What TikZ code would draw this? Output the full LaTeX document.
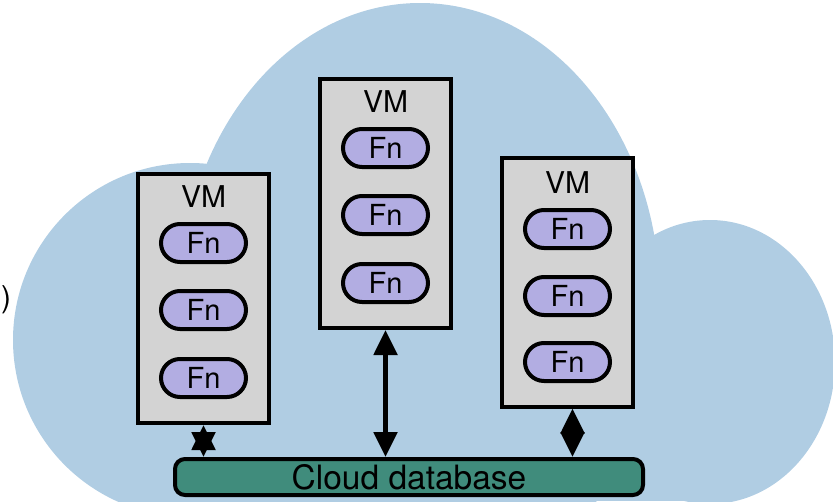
\documentclass[tikz,border=0pt]{standalone}
\usepackage{fontspec}
\setmainfont{TeX Gyre Heros}
\usetikzlibrary{arrows.meta, positioning}
\definecolor{cloudColor}{RGB}{176,205,227}
\definecolor{vmColor}{RGB}{211,211,211}
\definecolor{fnColor}{RGB}{178,173,226}
\definecolor{dbColor}{RGB}{64,140,124}

\tikzset{
  vmbox/.style={draw, line width=4pt, fill=vmColor, minimum width=131pt, minimum height=249pt, inner sep=0pt},
  vmlabel/.style={inner sep=0pt, font=\fontsize{30}{32}\selectfont},
  fnpill/.style={draw, line width=4pt, fill=fnColor, rounded corners=19pt, minimum width=85pt, minimum height=38pt, inner sep=0pt, font=\fontsize{29}{31}\selectfont},
  dbbar/.style={draw, line width=4pt, fill=dbColor, rounded corners=10pt, minimum width=468pt, minimum height=36pt, inner sep=0pt, font=\fontsize{33.5}{35}\selectfont},
  link/.style={{Triangle[length=25pt,width=23pt]}-{Triangle[length=25pt,width=23pt]}, line width=5pt}
}

\begin{document}
\begin{tikzpicture}[x=1pt, y=-1pt]
  \useasboundingbox (0,0) rectangle (833,501);

  % Nube de fondo
  \begin{scope}
    \clip (0,0) rectangle (833,501);
    \fill[cloudColor] (190,340) circle [radius=177pt];
    \fill[cloudColor] (420,300) ellipse [x radius=240pt, y radius=297pt];
    \fill[cloudColor] (710,362) ellipse [x radius=125pt, y radius=142pt];
    \fill[cloudColor] (200,330) rectangle (720,501);
  \end{scope}

  \node[vmlabel] (paren) at (6,300) {)};

  % Primera VM
  \node[vmbox] (vm1) at (203.5,298.5) {};
  \node[vmlabel] (vm1lbl) at (203.5,197) {VM};
  \node[fnpill] (fn11) at (203.5,243) {Fn};
  \node[fnpill] (fn12) at (203.5,310) {Fn};
  \node[fnpill] (fn13) at (203.5,378) {Fn};

  % Segunda VM
  \node[vmbox] (vm2) at (385.5,203.5) {};
  \node[vmlabel] (vm2lbl) at (385.5,102) {VM};
  \node[fnpill] (fn21) at (385.5,148) {Fn};
  \node[fnpill] (fn22) at (385.5,215) {Fn};
  \node[fnpill] (fn23) at (385.5,283) {Fn};

  % Tercera VM
  \node[vmbox] (vm3) at (567.5,282) {};
  \node[vmlabel] (vm3lbl) at (567.5,183) {VM};
  \node[fnpill] (fn31) at (567.5,229) {Fn};
  \node[fnpill] (fn32) at (567.5,296) {Fn};
  \node[fnpill] (fn33) at (567.5,362) {Fn};

  % Base de datos
  \node[dbbar] (db) at (409,477) {Cloud database};

  % Conexiones
  \draw[link] (vm1.south) -- (vm1.south |- db.north);
  \draw[link] (vm2.south) -- (vm2.south |- db.north);
  \draw[link] ([xshift=5pt]vm3.south) -- ([xshift=5pt]vm3.south |- db.north);
\end{tikzpicture}
\end{document}
